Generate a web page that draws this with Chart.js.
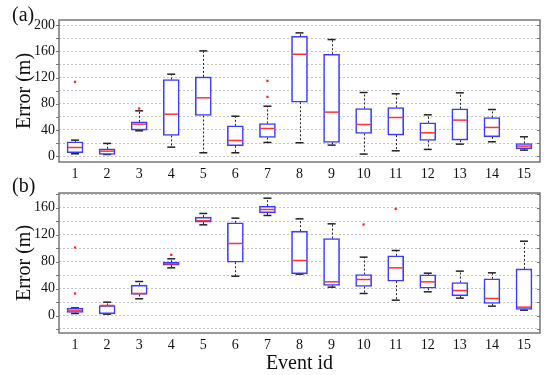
<!DOCTYPE html>
<html>
<head>
<meta charset="utf-8">
<script src="https://cdn.jsdelivr.net/npm/chart.js@4"></script>
<style>
  body { margin: 0; background: #fff; }
  .wrap { position: absolute; left: 0; width: 550px; }
  #wa { top: 0; height: 182px; }
  #wb { top: 180px; height: 195px; }
  .tag { position: absolute; left: 12px; font: 20px "Liberation Serif", serif; color: #111; }
</style>
</head>
<body>
<div class="wrap" id="wa"><canvas id="chartA"></canvas></div>
<div class="wrap" id="wb"><canvas id="chartB"></canvas></div>
<div class="tag" style="top:3px">(a)</div>
<div class="tag" style="top:174px">(b)</div>
<script>
// event ids on the x axis
const eventIds = ['1','2','3','4','5','6','7','8','9','10','11','12','13','14','15'];

// (a) box plot statistics
const aLow    = [3.6, 2.5, 38.7, 13.7, 5.1, 5.1, 20.9, 20.4, 16.8, 3.1, 8.1, 10.2, 18.3, 21.9, 9.2];
const aQ1     = [5.1, 2.6, 39.7, 31.6, 62.1, 15.8, 28.5, 82.4, 20.9, 34.6, 32.1, 23.9, 24.4, 29.5, 11.2];
const aMedian = [13.2, 7.6, 48.9, 64.1, 89.1, 23.9, 42.2, 155.7, 67.2, 48.3, 59, 35.6, 55, 43.8, 15.3];
const aQ3     = [21.9, 11.1, 52.4, 117, 121.1, 46.3, 49.9, 183.2, 155.7, 72.8, 74.3, 50.9, 72.3, 59, 19.3];
const aHigh   = [24.4, 19.4, 69.2, 125.2, 160.8, 61, 76.3, 188.3, 178.1, 97.2, 95.2, 63.1, 96.7, 71.2, 29.5];
const aOutX   = ['1', '3', '7', '7'];
const aOutY   = [113.5, 72.8, 115, 90.6];

// (b)
const bLow    = [3, 2, 24.8, 70.8, 134.7, 58.4, 148.6, 61.4, 42.1, 32.7, 22.8, 35.2, 25.8, 13.9, 7.9];
const bQ1     = [4.5, 2.5, 31.2, 74.8, 138.7, 79.2, 152.5, 61.9, 44.6, 43.1, 51, 40.6, 29.2, 17.8, 8.9];
const bMedian = [6.9, 14.9, 32.7, 76.8, 140.7, 107, 157.5, 81.7, 50, 53.5, 70.8, 50, 37.1, 25.3, 12.4];
const bQ3     = [10.9, 14.9, 45.1, 79.2, 146.1, 137.7, 162.5, 125.3, 114.4, 60.9, 88.7, 60.4, 49, 54.5, 69.3];
const bHigh   = [11.4, 19.8, 50.5, 84.2, 151.6, 144.6, 174.3, 143.6, 136.2, 86.7, 96.6, 62.9, 65.9, 63.4, 110.4];
const bOutX   = ['1', '1', '4', '10', '11'];
const bOutY   = [101, 32.7, 90.1, 135.2, 158.5];

const serif = '"Liberation Serif", "DejaVu Serif", serif';
const BOX_W = 16;

// whiskers, caps, medians and the frame, all placed through the chart scales
function boxParts(low, q1, med, q3, high) {
    return {
        id: 'boxParts',
        beforeDatasetsDraw(chart) {
            const { ctx, scales: { x, y } } = chart;
            ctx.save();
            ctx.strokeStyle = '#222';
            ctx.lineWidth = 1;
            ctx.setLineDash([2, 2]);
            low.forEach((lo, i) => {
                const px = Math.round(x.getPixelForValue(i)) + 0.5;
                ctx.beginPath();
                ctx.moveTo(px, y.getPixelForValue(q3[i]));
                ctx.lineTo(px, y.getPixelForValue(high[i]));
                ctx.moveTo(px, y.getPixelForValue(q1[i]));
                ctx.lineTo(px, y.getPixelForValue(lo));
                ctx.stroke();
            });
            ctx.setLineDash([]);
            ctx.lineWidth = 1.5;
            low.forEach((lo, i) => {
                const px = x.getPixelForValue(i);
                [lo, high[i]].forEach(v => {
                    const py = y.getPixelForValue(v);
                    ctx.beginPath();
                    ctx.moveTo(px - 4, py);
                    ctx.lineTo(px + 4, py);
                    ctx.stroke();
                });
            });
            ctx.restore();
        },
        afterDatasetsDraw(chart) {
            const { ctx, chartArea: a, scales: { x, y } } = chart;
            ctx.save();
            ctx.strokeStyle = '#ff3030';
            ctx.lineWidth = 1.5;
            med.forEach((m, i) => {
                const px = x.getPixelForValue(i);
                const py = y.getPixelForValue(m);
                ctx.beginPath();
                ctx.moveTo(px - BOX_W / 2 + 1, py);
                ctx.lineTo(px + BOX_W / 2 - 1, py);
                ctx.stroke();
            });
            // frame + small ticks
            ctx.strokeStyle = '#777';
            ctx.lineWidth = 1.5;
            ctx.strokeRect(a.left, a.top, a.right - a.left, a.bottom - a.top);
            ctx.lineWidth = 1;
            y.ticks.forEach(t => {
                const py = Math.round(y.getPixelForValue(t.value)) + 0.5;
                ctx.beginPath();
                ctx.moveTo(a.left - 3, py); ctx.lineTo(a.left, py);
                ctx.moveTo(a.right, py); ctx.lineTo(a.right - 3, py);
                ctx.stroke();
            });
            ctx.restore();
        }
    };
}

function makeChart(id, low, q1, med, q3, high, outX, outY, yMin, yMax, opts) {
    const boxes = q1.map((v, i) => [v, q3[i]]);
    const outliers = outX.map((xv, i) => ({ x: xv, y: outY[i] }));
    return new Chart(document.getElementById(id), {
        type: 'bar',
        data: {
            labels: eventIds,
            datasets: [{
                data: boxes,
                backgroundColor: '#ffffff',
                borderColor: '#3b3bff',
                borderWidth: 1.6,
                borderSkipped: false,
                barThickness: BOX_W
            }, {
                type: 'line',
                data: outliers,
                showLine: false,
                pointStyle: 'rect',
                pointRadius: 1.6,
                pointBackgroundColor: '#ff2020',
                pointBorderWidth: 0
            }]
        },
        options: {
            responsive: true,
            maintainAspectRatio: false,
            animation: false,
            layout: { padding: { left: 13, right: 10, top: opts.top, bottom: 0 } },
            plugins: { legend: { display: false }, tooltip: { enabled: false } },
            scales: {
                x: {
                    grid: { display: false, drawTicks: false },
                    border: { display: false },
                    ticks: { color: '#111', font: { family: serif, size: 14 }, padding: 4, maxRotation: 0, autoSkip: false },
                    title: opts.xTitle ? { display: true, text: 'Event id', color: '#111',
                        font: { family: serif, size: 20, lineHeight: 1.1 }, padding: { top: 0, bottom: 0 } } : { display: false },
                    afterFit: s => { s.height = opts.xH; }
                },
                y: {
                    min: yMin,
                    max: yMax,
                    grid: { color: '#c4c4c4', drawTicks: false, lineWidth: 1 },
                    border: { display: false, dash: [2, 2] },
                    ticks: {
                        stepSize: 20,
                        includeBounds: false,
                        autoSkip: false,
                        padding: 4,
                        color: '#111',
                        font: { family: serif, size: 14 },
                        callback: v => (v % 40 === 0 ? v : '')
                    },
                    title: { display: true, text: 'Error (m)', color: '#111',
                        font: { family: serif, size: 20 }, padding: { top: 0, bottom: 3 } },
                    afterFit: s => { s.width = 46; }
                }
            }
        },
        plugins: [boxParts(low, q1, med, q3, high)]
    });
}

makeChart('chartA', aLow, aQ1, aMedian, aQ3, aHigh, aOutX, aOutY, -9, 208, { top: 20, xH: 20, xTitle: false });
makeChart('chartB', bLow, bQ1, bMedian, bQ3, bHigh, bOutX, bOutY, -26, 182, { top: 13, xH: 42, xTitle: true });
</script>
</body>
</html>
